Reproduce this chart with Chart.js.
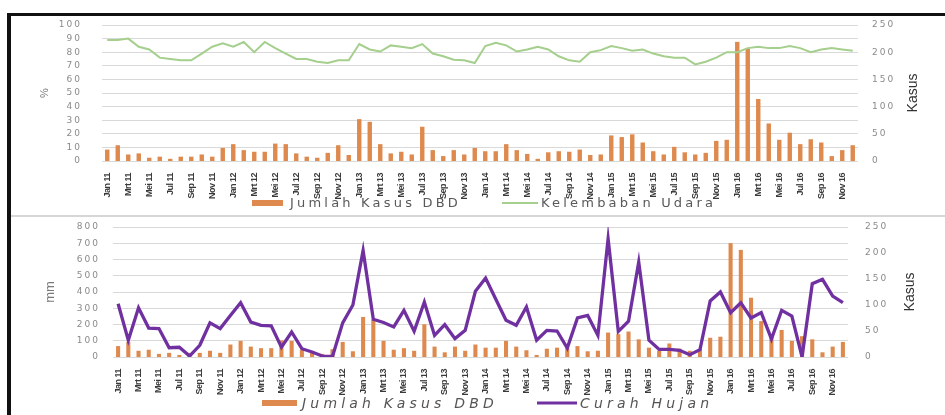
<!DOCTYPE html>
<html>
<head>
<meta charset="utf-8">
<script src="https://cdn.jsdelivr.net/npm/chart.js@4.4.1/dist/chart.umd.min.js"></script>
<style>
  html, body { margin: 0; padding: 0; background: #fff; }
  body { width: 945px; height: 415px; position: relative; overflow: hidden; }
  canvas { position: absolute; left: 0; }
  #atas { top: 16px; }
  #bawah { top: 217px; }
  .garis { position: absolute; background: #111; }
</style>
</head>
<body>
<canvas id="atas" width="945" height="199"></canvas>
<canvas id="bawah" width="945" height="198"></canvas>
<div class="garis" style="left:7px;top:13px;width:938px;height:3px;"></div>
<div class="garis" style="left:7px;top:13px;width:4px;height:402px;"></div>
<div class="garis" style="left:11px;top:215px;width:934px;height:2px;background:#d6d6d6;"></div>
<script>
// bulan Jan 2011 - Des 2016
const bulan = ['Jan', 'Feb', 'Mrt', 'Apr', 'Mei', 'Jun', 'Jul', 'Agt', 'Sep', 'Okt', 'Nov', 'Des'];
const tahun = ['11', '12', '13', '14', '15', '16'];
const labels = [];
tahun.forEach(t => bulan.forEach(b => labels.push(b + ' ' + t)));

// Jumlah Kasus DBD (sumbu kanan, kasus)
const kasusDBD = [
  21, 29, 12, 14, 6, 8, 4, 8, 8, 12, 8, 24,
  31, 20, 17, 17, 32, 31, 14, 8, 6, 15, 29, 11,
  77, 72, 31, 14, 17, 12, 63, 20, 9, 20, 12, 24,
  18, 18, 31, 20, 13, 4, 16, 18, 17, 21, 11, 12,
  47, 44, 49, 34, 18, 12, 26, 16, 12, 15, 37, 39,
  219, 206, 114, 69, 39, 52, 31, 40, 34, 9, 20, 29
];

// Kelembaban Udara (%)
const kelembaban = [
  89, 89, 90, 84, 82, 76, 75, 74, 74, 79, 84, 86.5,
  84, 87.5, 80, 87.5, 83, 79, 75, 75, 73, 72, 74, 74,
  86, 82, 80.5, 85, 84, 83, 86, 79, 77, 74.5, 74, 72,
  84.5, 87, 85, 80.5, 82, 84, 82, 77, 74, 73, 80, 81.5,
  84.5, 83, 81, 82, 79, 77, 76, 76, 71, 73, 76, 80,
  80, 83, 84, 83, 83, 84.5, 83, 80, 82, 83, 82, 81
];

// Curah Hujan (mm)
const curahHujan = [
  328, 103, 303, 178, 175, 57, 60, 6, 72, 211, 175, 256,
  334, 215, 195, 192, 60, 154, 51, 31, 6, 3, 210, 320,
  656, 232, 212, 185, 287, 158, 338, 133, 199, 113, 164, 404,
  486, 355, 226, 195, 308, 103, 164, 160, 55, 240, 256, 133,
  728, 158, 220, 585, 103, 47, 47, 41, 14, 45, 345, 400,
  273, 334, 240, 273, 111, 287, 252, 0, 451, 478, 375, 334
];

const oranye = '#de8a4e';
const hijau = '#a5cf8c';
const ungu = '#7030a0';
const abu = '#8a8a8a';

// legenda, judul sumbu dan jarak huruf digambar/diatur sendiri
const hiasan = {
  id: 'hiasan',
  beforeDraw(chart, args, opt) {
    chart.ctx.letterSpacing = opt.ySpacing;   // label sumbu y
  },
  afterDatasetsDraw(chart, args, opt) {
    chart.ctx.letterSpacing = opt.xSpacing;   // label sumbu x (ticks.z: 1)
  },
  afterDraw(chart, args, opt) {
    const ctx = chart.ctx;
    const tengah = (chart.chartArea.top + chart.chartArea.bottom) / 2;
    ctx.save();
    opt.legend.forEach(item => {
      const ds = chart.data.datasets[item.ds];
      if (item.type === 'rect') {
        ctx.fillStyle = ds.backgroundColor;
        ctx.fillRect(item.x, item.y - item.h / 2, item.w, item.h);
      } else {
        ctx.strokeStyle = ds.borderColor;
        ctx.lineWidth = item.h;
        ctx.beginPath();
        ctx.moveTo(item.x, item.y);
        ctx.lineTo(item.x + item.w, item.y);
        ctx.stroke();
      }
      ctx.font = opt.font;
      ctx.letterSpacing = opt.spacing;
      ctx.fillStyle = opt.color;
      ctx.textAlign = 'left';
      ctx.textBaseline = 'middle';
      ctx.fillText(ds.label, item.tx, item.y + 1);
    });
    ctx.letterSpacing = '0px';
    opt.titles.forEach(t => {
      ctx.save();
      ctx.translate(t.x, tengah);
      ctx.rotate(-Math.PI / 2);
      ctx.font = t.font;
      ctx.fillStyle = t.color;
      ctx.textAlign = 'center';
      ctx.textBaseline = 'middle';
      ctx.fillText(t.text, 0, 0);
      ctx.restore();
    });
    ctx.restore();
  }
};

function sumbuX(tinggi) {
  return {
    type: 'category',
    grid: { display: false },
    border: { display: false },
    ticks: {
      z: 1,
      autoSkip: false, minRotation: 90, maxRotation: 90, padding: 4,
      color: '#3a3a3a',
      font: { family: "'Liberation Sans', sans-serif", size: 9, weight: 'bold' },
      callback: (v, i) => (i % 2 === 0 ? labels[i] : '')
    },
    afterFit: s => { s.height = tinggi; }
  };
}

// jarak label ke area plot diatur lewat tick mark transparan
function sumbuY(pos, max, step, lebar, jarak, grid) {
  return {
    position: pos, min: 0, max: max,
    grid: { display: grid, color: '#d9d9d9', lineWidth: 1, drawTicks: true,
            tickLength: jarak, tickColor: 'rgba(0,0,0,0)' },
    border: { display: false },
    ticks: { stepSize: step, autoSkip: false, padding: 2, color: abu,
             font: { family: 'DejaVu Sans', size: 9 } },
    afterFit: s => { s.width = lebar; }
  };
}

new Chart(document.getElementById('atas'), {
  data: {
    labels: labels,
    datasets: [
      { type: 'bar', label: 'Jumlah Kasus DBD', data: kasusDBD, yAxisID: 'y1',
        backgroundColor: oranye, barPercentage: 0.42, categoryPercentage: 1, order: 1 },
      { type: 'line', label: 'Kelembaban Udara', data: kelembaban, yAxisID: 'y',
        borderColor: hijau, borderWidth: 2, pointRadius: 0, tension: 0, order: 0 }
    ]
  },
  options: {
    responsive: false, animation: false,
    layout: { padding: { top: 9, bottom: 0, left: 0, right: 0 } },
    plugins: {
      legend: { display: false }, tooltip: { enabled: false },
      hiasan: {
        ySpacing: '2px', xSpacing: '-0.5px',
        font: "13px 'DejaVu Sans'", spacing: '3.2px', color: '#595959',
        legend: [
          { ds: 0, type: 'rect', x: 252, w: 31, h: 6, y: 187, tx: 290 },
          { ds: 1, type: 'line', x: 502, w: 36, h: 2, y: 187, tx: 541 }
        ],
        titles: [
          { text: '%', x: 45, font: "11px 'Liberation Sans'", color: '#7a7a7a' },
          { text: 'Kasus', x: 913, font: "14px 'Liberation Sans'", color: '#333' }
        ]
      }
    },
    scales: {
      x: sumbuX(54),
      y: sumbuY('left', 100, 10, 102, 18, true),
      y1: sumbuY('right', 250, 50, 87, 12, false)
    }
  },
  plugins: [hiasan]
});

new Chart(document.getElementById('bawah'), {
  data: {
    labels: labels,
    datasets: [
      { type: 'bar', label: 'Jumlah Kasus DBD', data: kasusDBD, yAxisID: 'y1',
        backgroundColor: oranye, barPercentage: 0.4, categoryPercentage: 1, order: 1 },
      { type: 'line', label: 'Curah Hujan', data: curahHujan, yAxisID: 'y',
        borderColor: ungu, borderWidth: 3.3, pointRadius: 0, tension: 0, order: 0 }
    ]
  },
  options: {
    responsive: false, animation: false,
    layout: { padding: { top: 10, bottom: 0, left: 0, right: 0 } },
    plugins: {
      legend: { display: false }, tooltip: { enabled: false },
      hiasan: {
        ySpacing: '2px', xSpacing: '-0.5px',
        font: "italic 14px 'DejaVu Sans'", spacing: '4.2px', color: '#555',
        legend: [
          { ds: 0, type: 'rect', x: 262, w: 35, h: 6, y: 186, tx: 302 },
          { ds: 1, type: 'line', x: 537, w: 40, h: 3, y: 186, tx: 580 }
        ],
        titles: [
          { text: 'mm', x: 50, font: "13px 'Liberation Sans'", color: '#7a7a7a' },
          { text: 'Kasus', x: 910, font: "14px 'Liberation Sans'", color: '#333' }
        ]
      }
    },
    scales: {
      x: sumbuX(58),
      y: sumbuY('left', 800, 100, 113, 11, true),
      y1: sumbuY('right', 250, 50, 97, 15, false)
    }
  },
  plugins: [hiasan]
});
</script>
</body>
</html>
